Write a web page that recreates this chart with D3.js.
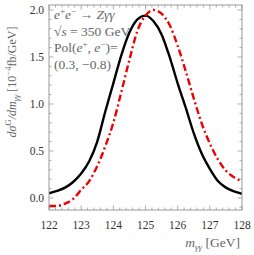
<!DOCTYPE html>
<html>
<head>
<meta charset="utf-8">
<script src="https://cdn.jsdelivr.net/npm/d3@7"></script>
<style>
  body { margin: 0; background: #fff; }
  svg text { font-family: "Liberation Serif", "DejaVu Serif", serif; }
</style>
</head>
<body>
<svg id="chart" width="254" height="255"></svg>
<script>
// m_gamma-gamma grid (GeV)
const mass = [122, 122.25, 122.5, 122.75, 123, 123.25, 123.5, 123.75, 124, 124.25, 124.5, 124.75,
    125, 125.25, 125.5, 125.75, 126, 126.25, 126.5, 126.75, 127, 127.25, 127.5, 127.75, 128];
// black solid
const solid = [0.05, 0.075, 0.11, 0.17, 0.26, 0.39, 0.60, 0.92, 1.22, 1.52, 1.76, 1.90,
    1.94, 1.88, 1.74, 1.50, 1.22, 0.96, 0.69, 0.47, 0.31, 0.18, 0.11, 0.07, 0.045];
// red dash-dot
const dashed = [-0.085, -0.085, -0.06, -0.01, 0.085, 0.18, 0.34, 0.55, 0.80, 1.13, 1.47, 1.78,
    1.94, 2.00, 1.96, 1.84, 1.62, 1.35, 1.06, 0.79, 0.58, 0.41, 0.29, 0.22, 0.18];
const xTicks = [122, 123, 124, 125, 126, 127, 128];
const yTicks = [0.0, 0.5, 1.0, 1.5, 2.0];
// text pieces as [text, style]: i = italic, u = superscript, d = subscript (italic), n = normal
const noteLines = [
    [["e", "i"], ["+", "u"], ["e", "i"], ["−", "u"], [" → ", "n"], ["Zγγ", "i"]],
    [["√", "n"], ["s", "i"], [" = 350 GeV", "n"]],
    [["Pol(", "n"], ["e", "i"], ["+", "u"], [", ", "n"], ["e", "i"], ["−", "u"], [")=", "n"]],
    [["(0.3, −0.8)", "n"]]
];
const xTitle = [["m", "i"], ["γγ", "d"], [" [GeV]", "n"]];
const yTitle = [["dσ", "i"], ["G", "u"], ["/dm", "i"], ["γγ", "d"], [" [10", "n"], ["−4", "u"], ["fb/GeV]", "n"]];

const svg = d3.select("#chart");
const margin = { top: 5, right: 12, bottom: 45, left: 49 };
const width = 254, height = 255;
const innerWidth = width - margin.left - margin.right;
const innerHeight = height - margin.top - margin.bottom;

const g = svg.append("g").attr("transform", `translate(${margin.left},${margin.top})`);

const xScale = d3.scaleLinear().domain([122, 128]).range([0, innerWidth]);
const yScale = d3.scaleLinear().domain([-0.128, 2.053]).range([innerHeight, 0]);

const frameColor = "#999";

// write styled pieces into a text element as tspans
function richText(t, parts, small) {
    let shift = 0;
    parts.forEach(([s, style]) => {
        const sp = t.append("tspan").text(s);
        let target = 0;
        if (style === "i" || style === "d") sp.attr("font-style", "italic");
        if (style === "u") target = -5;
        if (style === "d") target = 3;
        if (style === "u" || style === "d") sp.attr("font-size", small);
        if (target !== shift) sp.attr("dy", target - shift);
        shift = target;
    });
    return t;
}

// curves
const line = d3.line()
    .x((d, i) => xScale(mass[i]))
    .y(d => yScale(d))
    .curve(d3.curveMonotoneX);

g.append("defs").append("clipPath").attr("id", "clip")
    .append("rect").attr("width", innerWidth).attr("height", innerHeight);

const plot = g.append("g").attr("clip-path", "url(#clip)");

plot.append("path")
    .datum(solid)
    .attr("fill", "none")
    .attr("stroke", "#000")
    .attr("stroke-width", 2.4)
    .attr("d", line);

plot.append("path")
    .datum(dashed)
    .attr("fill", "none")
    .attr("stroke", "#ee0000")
    .attr("stroke-width", 2.4)
    .attr("stroke-dasharray", "7,3,2,3")
    .attr("d", line);

// frame
g.append("rect")
    .attr("width", innerWidth)
    .attr("height", innerHeight)
    .attr("fill", "none")
    .attr("stroke", frameColor)
    .attr("stroke-width", 1);

// inward ticks on all four sides
const xMinor = d3.range(122, 128.001, 0.2).map(v => +v.toFixed(2));
const yMinor = d3.range(-0.1, 2.051, 0.1).map(v => +v.toFixed(2));
const isMajorX = v => Math.abs(v - Math.round(v)) < 1e-6;
const isMajorY = v => Math.abs(v * 2 - Math.round(v * 2)) < 1e-6;

const ticks = g.append("g").attr("stroke", frameColor).attr("stroke-width", 0.8);
xMinor.forEach(v => {
    const len = isMajorX(v) ? 4.5 : 2.5;
    const x = xScale(v);
    ticks.append("line").attr("x1", x).attr("x2", x).attr("y1", innerHeight).attr("y2", innerHeight - len);
    ticks.append("line").attr("x1", x).attr("x2", x).attr("y1", 0).attr("y2", len);
});
yMinor.forEach(v => {
    const len = isMajorY(v) ? 4.5 : 2.5;
    const y = yScale(v);
    ticks.append("line").attr("x1", 0).attr("x2", len).attr("y1", y).attr("y2", y);
    ticks.append("line").attr("x1", innerWidth).attr("x2", innerWidth - len).attr("y1", y).attr("y2", y);
});

// tick labels
g.append("g").selectAll("text").data(xTicks).join("text")
    .attr("x", d => xScale(d))
    .attr("y", innerHeight + 19)
    .attr("text-anchor", "middle")
    .attr("font-size", 11.5)
    .attr("fill", "#333")
    .text(d => d);

g.append("g").selectAll("text").data(yTicks).join("text")
    .attr("x", -5)
    .attr("y", d => yScale(d) + 4)
    .attr("text-anchor", "end")
    .attr("font-size", 11.5)
    .attr("fill", "#333")
    .text(d => d3.format(".1f")(d));

// x axis title, right aligned at 240
const xt = richText(svg.append("text")
    .attr("y", 247)
    .attr("font-size", 13.5)
    .attr("fill", "#666"), xTitle, 9);
xt.attr("x", 240 - xt.node().getComputedTextLength());

// y axis title, centred around y = 82
const yt = richText(svg.append("text")
    .attr("transform", "translate(16,0) rotate(-90)")
    .attr("font-size", 12)
    .attr("fill", "#666"), yTitle, 8.5);
yt.attr("x", -(82 + yt.node().getComputedTextLength() / 2));

// annotation
const notes = g.append("g")
    .attr("font-size", 13.5)
    .attr("fill", "#666");
noteLines.forEach((parts, i) => {
    richText(notes.append("text").attr("x", 5).attr("y", 14 + i * 16.5), parts, 9);
});
</script>
</body>
</html>
